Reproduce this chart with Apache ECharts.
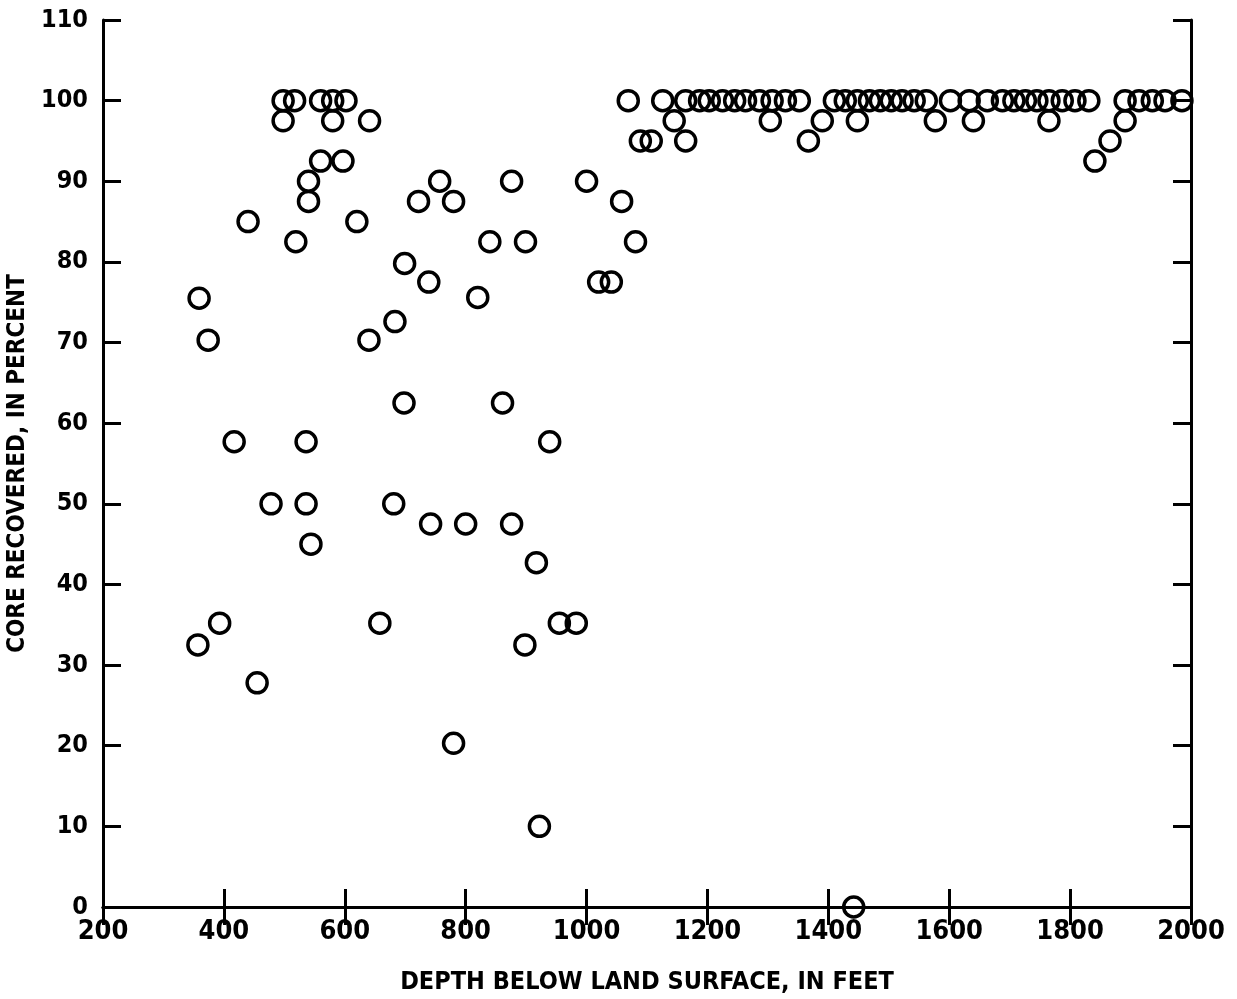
<!DOCTYPE html>
<html>
<head>
<meta charset="utf-8">
<script src="https://cdn.jsdelivr.net/npm/echarts@6/dist/echarts.min.js"></script>
<style>
html,body{margin:0;padding:0;background:#fff;}
#chart{width:1237px;height:999px;}
</style>
</head>
<body>
<div id="chart"></div>
<script>
// Depth below land surface (feet) of each cored interval
const depthFt = [
  357, 359, 374, 393, 417, 440, 455, 478, 498, 498,
  517, 519, 536, 536, 540, 540, 544, 560, 560, 580,
  580, 597, 602, 620, 641, 640, 658, 683, 681, 698,
  699, 722, 739, 742, 757, 780, 780, 800, 820, 840,
  861, 876, 876, 898, 899, 917, 922, 939, 955, 983,
  1000, 1020, 1041, 1058, 1069, 1081, 1089, 1107, 1126, 1145,
  1164, 1164, 1187, 1203, 1225, 1245, 1263, 1286, 1304, 1307,
  1329, 1352, 1367, 1390, 1410, 1428, 1448, 1448, 1442, 1468,
  1486, 1504, 1522, 1542, 1562, 1577, 1602, 1633, 1640, 1663,
  1688, 1707, 1726, 1745, 1765, 1765, 1787, 1808, 1831, 1841,
  1866, 1891, 1891, 1914, 1936, 1957, 1985
];
// Core recovered (percent) for each interval, same order
const corePct = [
  32.5, 75.5, 70.3, 35.2, 57.7, 85, 27.8, 50, 100, 97.5,
  100, 82.5, 57.7, 50, 90, 87.5, 45, 100, 92.5, 100,
  97.5, 92.5, 100, 85, 97.5, 70.3, 35.2, 72.6, 50, 62.5,
  79.8, 87.5, 77.5, 47.5, 90, 87.5, 20.3, 47.5, 75.6, 82.5,
  62.5, 90, 47.5, 32.5, 82.5, 42.7, 10, 57.7, 35.2, 35.2,
  90, 77.5, 77.5, 87.5, 100, 82.5, 95, 95, 100, 97.5,
  95, 100, 100, 100, 100, 100, 100, 100, 97.5, 100,
  100, 100, 95, 97.5, 100, 100, 97.5, 100, 0, 100,
  100, 100, 100, 100, 100, 97.5, 100, 100, 97.5, 100,
  100, 100, 100, 100, 97.5, 100, 100, 100, 100, 92.5,
  95, 97.5, 100, 100, 100, 100, 100
];
const xTicks = [200, 400, 600, 800, 1000, 1200, 1400, 1600, 1800, 2000];
const yTicks = [0, 10, 20, 30, 40, 50, 60, 70, 80, 90, 100, 110];
const xTitle = 'DEPTH BELOW LAND SURFACE, IN FEET';
const yTitle = 'CORE RECOVERED, IN PERCENT';

const FONT = '"Liberation Sans Narrow", "DejaVu Sans Condensed", sans-serif';
const points = depthFt.map((d, i) => [d, corePct[i]]);

const lineStyle = { color: '#000', width: 3 };
const tick = { show: true, inside: true, length: 18, lineStyle: { color: '#000', width: 3 } };

const chart = echarts.init(document.getElementById('chart'), null, { renderer: 'canvas' });
chart.setOption({
  backgroundColor: '#fff',
  animation: false,
  grid: { left: 103, right: 46, top: 20, bottom: 92, containLabel: false, outerBoundsMode: 'none' },
  xAxis: [
    {
      type: 'value', position: 'bottom',
      min: xTicks[0], max: xTicks[xTicks.length - 1], interval: 200,
      axisLine: { show: true, lineStyle },
      axisTick: tick,
      splitLine: { show: false },
      axisLabel: { show: true, margin: 11, color: '#000', fontFamily: FONT, fontWeight: 'bold', fontSize: 27,
        formatter: v => String(v) },
      name: xTitle, nameLocation: 'middle', nameGap: 63,
      nameTextStyle: { color: '#000', fontFamily: FONT, fontWeight: 'bold', fontSize: 25 }
    },
    {
      type: 'value', position: 'top',
      min: xTicks[0], max: xTicks[xTicks.length - 1], interval: 200,
      axisLine: { show: true, lineStyle },
      axisTick: tick,
      splitLine: { show: false },
      axisLabel: { show: false }
    }
  ],
  yAxis: [
    {
      type: 'value', position: 'left',
      min: yTicks[0], max: yTicks[yTicks.length - 1], interval: 10,
      axisLine: { show: true, lineStyle },
      axisTick: tick,
      splitLine: { show: false },
      axisLabel: { show: true, margin: 15, color: '#000', fontFamily: FONT, fontWeight: 'bold', fontSize: 25,
        formatter: v => String(v) },
      name: yTitle, nameLocation: 'middle', nameGap: 63, nameRotate: 90,
      nameTextStyle: { color: '#000', fontFamily: FONT, fontWeight: 'bold', fontSize: 24 }
    },
    {
      type: 'value', position: 'right',
      min: yTicks[0], max: yTicks[yTicks.length - 1], interval: 10,
      axisLine: { show: true, lineStyle },
      axisTick: tick,
      splitLine: { show: false },
      axisLabel: { show: false }
    }
  ],
  series: [
    {
      type: 'scatter',
      xAxisIndex: 0, yAxisIndex: 0,
      data: points,
      symbol: 'circle',
      symbolSize: 20,
      clip: false,
      itemStyle: { color: 'rgba(0,0,0,0)', borderColor: '#000', borderWidth: 3.5, opacity: 1 }
    }
  ]
});
</script>
</body>
</html>
